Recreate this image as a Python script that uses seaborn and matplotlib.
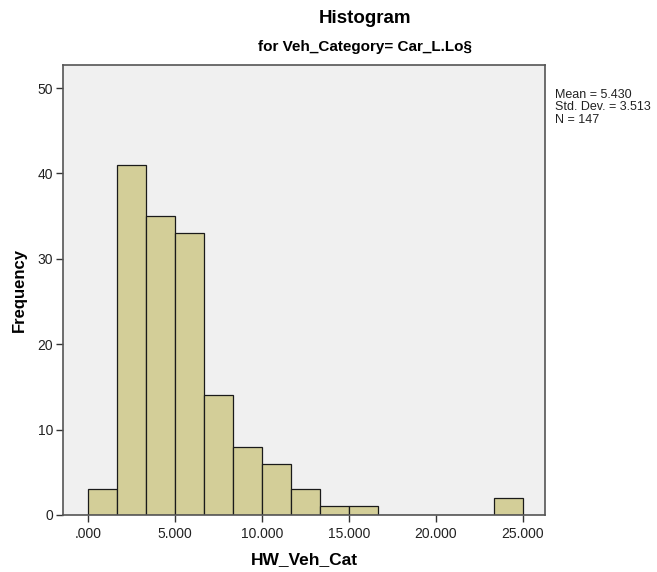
import seaborn as sns
import numpy as np
import matplotlib.pyplot as plt
import pandas as pd

# bin edges (0 to 25 in 15 bins) and frequencies
bin_edges = list(np.linspace(0, 25, 16))
counts = [3, 41, 35, 33, 14, 8, 6, 3, 1, 1, 0, 0, 0, 0, 2]
x_ticks = [0, 5, 10, 15, 20, 25]
x_ticklabels = [".000", "5.000", "10.000", "15.000", "20.000", "25.000"]
y_ticks = [0, 10, 20, 30, 40, 50]
stats_text = "Mean = 5.430\nStd. Dev. = 3.513\nN = 147"

centers = [(a + b) / 2 for a, b in zip(bin_edges[:-1], bin_edges[1:])]
df = pd.DataFrame({"HW_Veh_Cat": centers, "count": counts})

sns.set_style("white")
plt.rcParams['font.family'] = ['Liberation Sans', 'DejaVu Sans']

fig = plt.figure(figsize=(6.57, 5.72), dpi=100)
ax = fig.add_axes([0.0959, 0.0997, 0.7336, 0.7867])
ax.set_facecolor("#F0F0F0")

sns.histplot(data=df, x="HW_Veh_Cat", weights="count", bins=bin_edges,
             color="#D3CE98", alpha=1, edgecolor="#1a1a1a", linewidth=0.9, ax=ax)

ax.set_xlim(-1.44, 26.27)
ax.set_ylim(0, 52.7)
ax.set_xticks(x_ticks)
ax.set_xticklabels(x_ticklabels)
ax.set_yticks(y_ticks)
ax.tick_params(axis="both", direction="out", length=5, width=1, colors="#333333",
               labelsize=10, labelcolor="#222222", left=True, bottom=True)
ax.tick_params(axis="y", pad=2)

for side in ["left", "bottom", "right", "top"]:
    ax.spines[side].set_visible(True)
    ax.spines[side].set_color("#555555")
    ax.spines[side].set_linewidth(1.2)

ax.set_xlabel("HW_Veh_Cat", fontsize=12.5, fontweight="bold", labelpad=8, color="black")
ax.set_ylabel("Frequency", fontsize=12, fontweight="bold", labelpad=8, color="black")

fig.text(0.555, 0.968, "Histogram", ha="center", va="center", fontsize=13.5,
         fontweight="bold", color="black")
fig.text(0.555, 0.918, "for Veh_Category= Car_L.Lo§", ha="center", va="center",
         fontsize=11, fontweight="bold", color="black")
fig.text(0.844, 0.845, stats_text, ha="left", va="top", fontsize=9,
         linespacing=1.05, color="#222222")

plt.savefig("out.png", dpi=100)
